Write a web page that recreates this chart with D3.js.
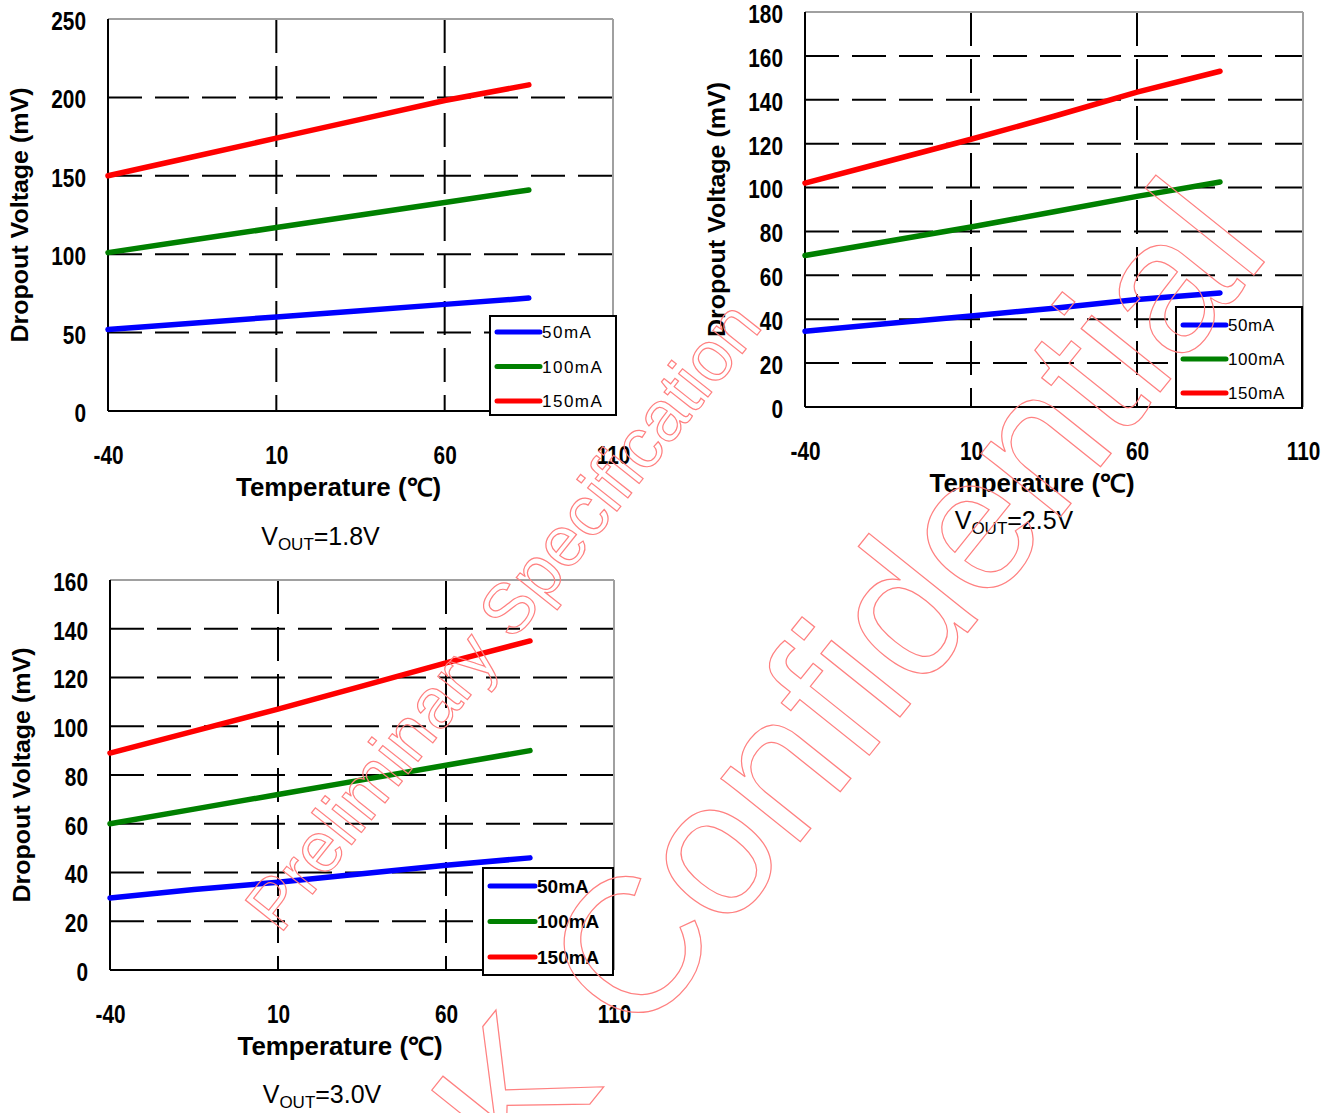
<!DOCTYPE html>
<html><head><meta charset="utf-8">
<script src="https://cdn.jsdelivr.net/npm/d3@7"></script>
<style>
html,body{margin:0;padding:0;background:#fff;}
svg{display:block;}
</style></head>
<body>
<svg id="c" width="1343" height="1113"></svg>
<script>
// ---------- data ----------
const temps = [-40, -15, 10, 35, 60, 85];
const xTicks = [-40, 10, 60, 110];
const seriesNames = ["50mA", "100mA", "150mA"];
const seriesColors = ["#0000ff", "#008000", "#ff0000"];

const v18_50 = [52, 56, 60, 64, 68, 72];
const v18_100 = [101, 109, 117, 125, 133, 141];
const v18_150 = [150, 162, 174, 186, 198, 208];
const yTicks18 = [0, 50, 100, 150, 200, 250];

const v25_50 = [34.5, 38, 41.5, 45, 49, 52];
const v25_100 = [69, 75.5, 82, 89, 96, 102.5];
const v25_150 = [102, 112, 122, 132.5, 143.5, 153];
const yTicks25 = [0, 20, 40, 60, 80, 100, 120, 140, 160, 180];

const v30_50 = [29.5, 33, 36, 39.5, 43, 46];
const v30_100 = [60, 66, 72, 78, 84, 90];
const v30_150 = [89, 98, 107, 116.5, 126, 135];
const yTicks30 = [0, 20, 40, 60, 80, 100, 120, 140, 160];

const vouts = ["1.8V", "2.5V", "3.0V"];

// ---------- layout ----------
const svg = d3.select("#c");
const sans = "'Liberation Sans',Arial,sans-serif";

function narrowText(sel, f) {
  sel.each(function () {
    const w = this.getComputedTextLength();
    d3.select(this).attr("textLength", w * f).attr("lengthAdjust", "spacingAndGlyphs");
  });
}

function drawChart(o) {
  const g = svg.append("g");
  const x = d3.scaleLinear().domain([-40, 110]).range([o.left, o.right]);
  const y = d3.scaleLinear().domain([0, o.yTicks[o.yTicks.length - 1]]).range([o.bottom, o.top]);

  // gridlines
  g.append("g").selectAll("line").data(o.yTicks.slice(1, -1)).join("line")
    .attr("x1", o.left).attr("x2", o.right).attr("y1", d => y(d)).attr("y2", d => y(d))
    .attr("stroke", "#000").attr("stroke-width", 2).attr("stroke-dasharray", "34,13");
  g.append("g").selectAll("line").data(xTicks.slice(1, -1)).join("line")
    .attr("x1", d => x(d)).attr("x2", d => x(d)).attr("y1", o.top).attr("y2", o.bottom)
    .attr("stroke", "#000").attr("stroke-width", 2).attr("stroke-dasharray", "34,13");

  // frame
  g.append("line").attr("x1", o.left).attr("x2", o.right).attr("y1", o.top).attr("y2", o.top).attr("stroke", "#a0a0a0").attr("stroke-width", 2);
  g.append("line").attr("x1", o.right).attr("x2", o.right).attr("y1", o.top).attr("y2", o.bottom).attr("stroke", "#a0a0a0").attr("stroke-width", 2);
  g.append("line").attr("x1", o.left).attr("x2", o.right).attr("y1", o.bottom).attr("y2", o.bottom).attr("stroke", "#000").attr("stroke-width", 2);
  g.append("line").attr("x1", o.left).attr("x2", o.left).attr("y1", o.top).attr("y2", o.bottom).attr("stroke", "#000").attr("stroke-width", 2);

  // axes labels via d3 axes
  const ya = d3.axisLeft(y).tickValues(o.yTicks).tickSize(0).tickPadding(22).tickFormat(d => String(d));
  const yg = g.append("g").attr("transform", `translate(${o.left},0)`).call(ya);
  yg.select(".domain").remove();
  yg.selectAll("text").attr("font-family", sans).attr("font-weight", "bold").attr("font-size", 26).attr("fill", "#000").attr("dy", "0.4em");
  narrowText(yg.selectAll("text"), 0.8);

  const xa = d3.axisBottom(x).tickValues(xTicks).tickSize(0).tickPadding(0).tickFormat(d => String(d));
  const xg = g.append("g").attr("transform", `translate(0,${o.bottom})`).call(xa);
  xg.select(".domain").remove();
  xg.selectAll("text").attr("font-family", sans).attr("font-weight", "bold").attr("font-size", 26).attr("fill", "#000").attr("dy", null).attr("y", 53);
  narrowText(xg.selectAll("text"), 0.8);

  // lines
  const line = d3.line().x((d, i) => x(temps[i])).y(d => y(d));
  o.series.forEach((s, i) => {
    g.append("path").attr("d", line(s)).attr("fill", "none").attr("stroke", seriesColors[i])
      .attr("stroke-width", 5.5).attr("stroke-linecap", "round");
  });

  // titles
  const cx = (o.left + o.right) / 2;
  g.append("text").attr("x", cx - 22).attr("y", o.bottom + 85).attr("text-anchor", "middle")
    .attr("font-family", sans).attr("font-weight", "bold").attr("font-size", 25)
    .attr("textLength", 205).attr("lengthAdjust", "spacingAndGlyphs")
    .text("Temperature (℃)");
  const cy = (o.top + o.bottom) / 2;
  g.append("text").attr("transform", `translate(${o.left - 80},${cy}) rotate(-90)`).attr("text-anchor", "middle")
    .attr("font-family", sans).attr("font-weight", "bold").attr("font-size", 23)
    .attr("textLength", 255).attr("lengthAdjust", "spacingAndGlyphs")
    .text("Dropout Voltage  (mV)");
  const vt = g.append("text").attr("x", cx - 40).attr("y", o.bottom + o.subDy).attr("text-anchor", "middle")
    .attr("font-family", sans).attr("font-size", 25).attr("fill", "#000");
  vt.append("tspan").text("V");
  vt.append("tspan").attr("font-size", 17).attr("dy", 5).text("OUT");
  vt.append("tspan").attr("dy", -5).text("=" + o.vout);

  // legend
  const L = o.legend;
  g.append("rect").attr("x", L.x).attr("y", L.y).attr("width", L.w).attr("height", L.h)
    .attr("fill", "#fff").attr("stroke", "#000").attr("stroke-width", 2);
  seriesNames.forEach((n, i) => {
    const yy = L.y + L.first + i * L.step;
    g.append("line").attr("x1", L.x + 7).attr("x2", L.x + L.lineW).attr("y1", yy).attr("y2", yy)
      .attr("stroke", seriesColors[i]).attr("stroke-width", 5).attr("stroke-linecap", "round");
    g.append("text").attr("x", L.x + L.lineW + 2).attr("y", yy).attr("dy", "0.36em")
      .attr("font-family", sans).attr("font-size", L.fs).attr("font-weight", L.bold ? "bold" : "normal")
      .attr("letter-spacing", L.ls).text(n);
  });
}

drawChart({ left: 108, right: 613, top: 19, bottom: 411, yTicks: yTicks18,
  series: [v18_50, v18_100, v18_150], vout: vouts[0], subDy: 134,
  legend: { x: 490, y: 316, w: 126, h: 99, first: 16, step: 34.5, lineW: 50, fs: 17, bold: false, ls: 1.5 } });
drawChart({ left: 805, right: 1303, top: 12, bottom: 407, yTicks: yTicks25,
  series: [v25_50, v25_100, v25_150], vout: vouts[1], subDy: 122,
  legend: { x: 1176, y: 307, w: 126, h: 101, first: 18, step: 34, lineW: 50, fs: 17, bold: false, ls: 0.6 } });
drawChart({ left: 110, right: 614, top: 580, bottom: 970, yTicks: yTicks30,
  series: [v30_50, v30_100, v30_150], vout: vouts[2], subDy: 133,
  legend: { x: 483, y: 868, w: 130, h: 107, first: 18, step: 35.5, lineW: 52, fs: 19, bold: true, ls: 0 } });

// watermark
const wm = svg.append("g").attr("fill", "none").attr("stroke", "#ff8080").attr("stroke-width", 1.2)
  .attr("font-family", sans);
wm.append("text").attr("transform", "translate(280,935) rotate(-51.5)").attr("font-size", 71).text("Preliminary Specification");
wm.append("text").attr("transform", "translate(525,1185) rotate(-51.3)").attr("font-size", 192).text("K Confidential");
</script>
</body></html>
